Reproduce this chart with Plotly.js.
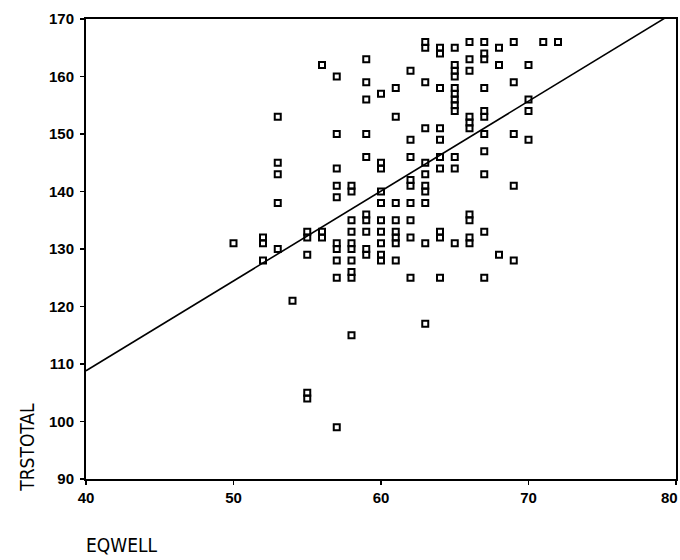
<!DOCTYPE html>
<html>
<head>
<meta charset="utf-8">
<script src="https://cdn.plot.ly/plotly-3.0.1.min.js"></script>
<style>
  html, body { margin: 0; padding: 0; background: #ffffff; }
  #chart { width: 680px; height: 560px; }
</style>
</head>
<body>
<div id="chart"></div>
<script>
// EQWELL score (x) and TRSTOTAL score (y) for each respondent, listed column by column.
const eqwell = [
  50,
  52, 52, 52,
  53, 53, 53, 53, 53,
  54,
  55, 55, 55, 55, 55,
  56, 56, 56,
  57, 57, 57, 57, 57, 57, 57, 57, 57, 57,
  58, 58, 58, 58, 58, 58, 58, 58, 58, 58,
  59, 59, 59, 59, 59, 59, 59, 59, 59, 59,
  60, 60, 60, 60, 60, 60, 60, 60, 60, 60,
  61, 61, 61, 61, 61, 61, 61, 61,
  62, 62, 62, 62, 62, 62, 62, 62, 62,
  63, 63, 63, 63, 63, 63, 63, 63, 63, 63, 63,
  64, 64, 64, 64, 64, 64, 64, 64, 64, 64,
  65, 65, 65, 65, 65, 65, 65, 65, 65, 65, 65, 65,
  66, 66, 66, 66, 66, 66, 66, 66, 66, 66,
  67, 67, 67, 67, 67, 67, 67, 67, 67, 67, 67,
  68, 68, 68,
  69, 69, 69, 69, 69,
  70, 70, 70, 70,
  71,
  72
];
const trstotal = [
  131,
  132, 131, 128,
  153, 145, 143, 138, 130,
  121,
  133, 132, 129, 105, 104,
  162, 133, 132,
  160, 150, 144, 141, 139, 131, 130, 128, 125, 99,
  141, 140, 135, 133, 131, 130, 128, 126, 125, 115,
  163, 159, 156, 150, 146, 136, 135, 133, 130, 129,
  157, 145, 144, 140, 138, 135, 133, 131, 129, 128,
  158, 153, 138, 135, 133, 132, 131, 128,
  161, 149, 146, 142, 141, 138, 135, 132, 125,
  166, 165, 159, 151, 145, 143, 141, 140, 138, 131, 117,
  165, 164, 158, 151, 149, 146, 144, 133, 132, 125,
  165, 162, 161, 160, 158, 157, 156, 155, 154, 146, 144, 131,
  166, 163, 161, 153, 152, 151, 136, 135, 132, 131,
  166, 164, 163, 158, 154, 153, 150, 147, 143, 133, 125,
  165, 162, 129,
  166, 159, 150, 141, 128,
  162, 156, 154, 149,
  166,
  166
];

// Fitted straight line TRSTOTAL = a + b * EQWELL
const fitIntercept = 46.3;
const fitSlope = 1.563;

// Axis extents and tick values
const xRange = [40, 80];
const yRange = [90, 170];
const xTicks = [40, 50, 60, 70, 80];
const yTicks = [90, 100, 110, 120, 130, 140, 150, 160, 170];

const fitX = xRange.slice();
const fitY = fitX.map(v => fitIntercept + fitSlope * v);

const tickFont = {
  family: '"Liberation Sans", Arimo, "DejaVu Sans", sans-serif',
  size: 15, weight: 'bold', color: '#000000'
};
const titleFont = {
  family: '"Liberation Sans Narrow", "DejaVu Sans Condensed", "DejaVu Sans", sans-serif',
  size: 19, color: '#000000'
};

const traces = [
  {
    type: 'scatter',
    mode: 'lines',
    x: fitX,
    y: fitY,
    line: { color: '#000000', width: 1.6 },
    hoverinfo: 'skip',
    showlegend: false,
    cliponaxis: true
  },
  {
    type: 'scatter',
    mode: 'markers',
    x: eqwell,
    y: trstotal,
    marker: {
      symbol: 'square-open',
      size: 6,
      color: '#000000',
      line: { color: '#000000', width: 2 }
    },
    showlegend: false
  }
];

const axisCommon = {
  showgrid: false,
  zeroline: false,
  showline: true,
  linecolor: '#000000',
  linewidth: 2,
  mirror: true,
  ticks: 'outside',
  ticklen: 4,
  tickwidth: 1.5,
  tickcolor: '#000000',
  tickfont: tickFont,
  tickmode: 'array'
};

// The last x tick label sits on the right edge of the figure, so it is drawn
// as a right-aligned note to keep it whole.
const lastX = xTicks[xTicks.length - 1];

const layout = {
  width: 680,
  height: 560,
  margin: { l: 86, r: 4, t: 19, b: 81 },
  paper_bgcolor: '#ffffff',
  plot_bgcolor: '#ffffff',
  showlegend: false,
  xaxis: Object.assign({}, axisCommon, {
    range: xRange,
    tickvals: xTicks,
    ticktext: xTicks.map(v => (v === lastX ? '' : String(v)))
  }),
  yaxis: Object.assign({}, axisCommon, {
    range: yRange,
    tickvals: yTicks,
    ticktext: yTicks.map(String),
    ticklabelstandoff: 3
  }),
  annotations: [
    {
      text: String(lastX),
      xref: 'paper', yref: 'paper',
      x: 1, y: 0,
      xshift: 4, yshift: -8,
      xanchor: 'right', yanchor: 'top',
      showarrow: false,
      font: tickFont
    },
    {
      text: 'TRSTOTAL',
      xref: 'paper', yref: 'paper',
      x: -0.1, y: 0.068,
      xanchor: 'center', yanchor: 'middle',
      textangle: -90,
      showarrow: false,
      font: titleFont
    },
    {
      text: 'EQWELL',
      xref: 'paper', yref: 'paper',
      x: -0.004, y: -0.1435,
      xanchor: 'left', yanchor: 'middle',
      showarrow: false,
      font: titleFont
    }
  ]
};

Plotly.newPlot('chart', traces, layout, { displayModeBar: false, staticPlot: true });
</script>
</body>
</html>
